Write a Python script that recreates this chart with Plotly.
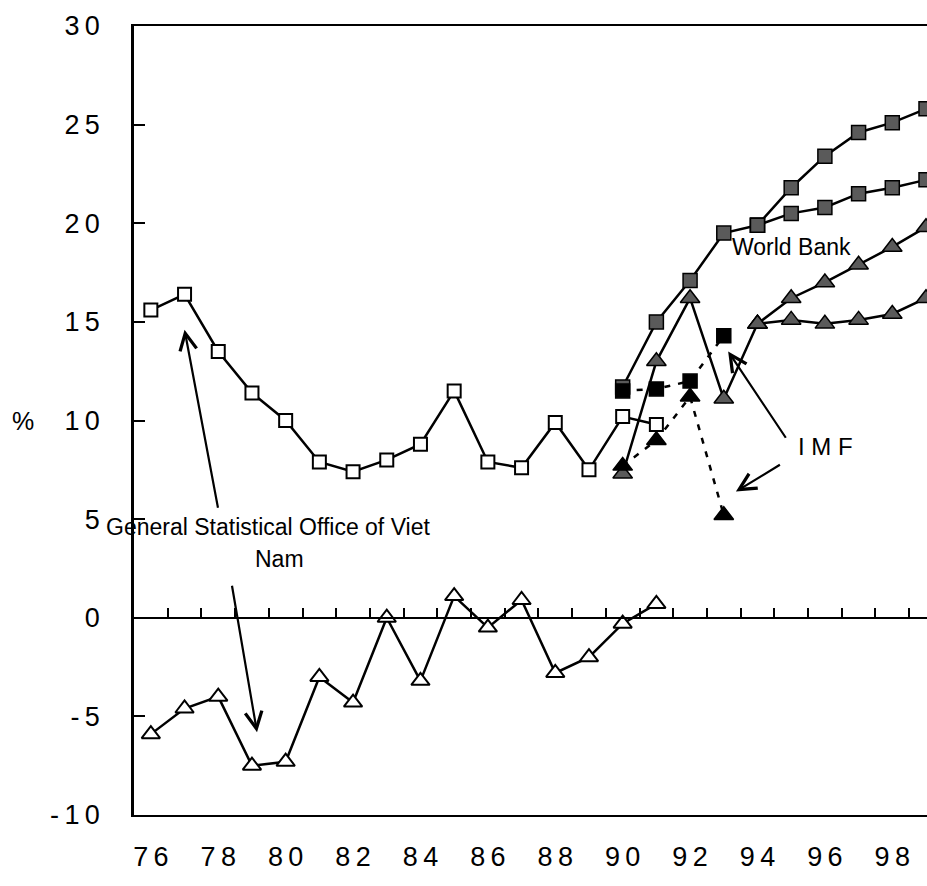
import plotly.graph_objects as go

# ---------------- data ----------------
GSO_YEARS = [76, 77, 78, 79, 80, 81, 82, 83, 84, 85, 86, 87, 88, 89, 90, 91]
GSO_INVEST = [15.6, 16.4, 13.5, 11.4, 10.0, 7.9, 7.4, 8.0, 8.8, 11.5, 7.9, 7.6, 9.9, 7.5, 10.2, 9.8]
GSO_SAVING = [-5.9, -4.6, -4.0, -7.5, -7.3, -3.0, -4.3, 0.0, -3.2, 1.1, -0.5, 0.9, -2.8, -2.0, -0.3, 0.7]

WB_BASE_YEARS = [90, 91, 92, 93, 94]
WB_INVEST_BASE = [11.7, 15.0, 17.1, 19.5, 19.9]
WB_SAVING_BASE = [7.3, 13.0, 16.2, 11.1, 14.9]

WB_PROJ_YEARS = [94, 95, 96, 97, 98, 99]
WB_INVEST_HIGH = [19.9, 21.8, 23.4, 24.6, 25.1, 25.8]
WB_INVEST_LOW = [19.9, 20.5, 20.8, 21.5, 21.8, 22.2]
WB_SAVING_HIGH = [14.9, 16.2, 17.0, 17.9, 18.8, 19.8]
WB_SAVING_LOW = [14.9, 15.1, 14.9, 15.1, 15.4, 16.2]

IMF_YEARS = [90, 91, 92, 93]
IMF_INVEST = [11.5, 11.6, 12.0, 14.3]
IMF_SAVING = [7.7, 9.0, 11.2, 5.2]

X_TICK_YEARS = [76, 78, 80, 82, 84, 86, 88, 90, 92, 94, 96, 98]
X_TICK_TEXT = ["76", "78", "80", "82", "84", "86", "88", "90", "92", "94", "96", "98"]
MINOR_TICK_YEARS = [y + 0.5 for y in range(76, 99)]
Y_TICKS = [-10, -5, 0, 5, 10, 15, 20, 25, 30]
Y_TICK_TEXT = ["-10", "-5", "0", "5", "10", "15", "20", "25", "30"]

FONT = "Liberation Sans, Arial, sans-serif"
GRAY = "#5a5a5a"
SP = "\u2009"  # thin space to mimic the wide letter spacing of the labels


def spaced(s):
    return SP.join(list(s))


fig = go.Figure()


def add_series(x, y, symbol, fill, dash="solid", size=13, lw=2.5):
    fig.add_trace(go.Scatter(
        x=x, y=y, mode="lines+markers",
        line=dict(color="black", width=lw, dash=dash),
        marker=dict(symbol=symbol, size=size, color=fill,
                    line=dict(color="black", width=2 if fill == "white" else 1.5)),
        hoverinfo="skip", showlegend=False, cliponaxis=False,
    ))


# GSO
add_series(GSO_YEARS, GSO_INVEST, "square", "white", size=13)
add_series(GSO_YEARS, GSO_SAVING, "triangle-up", "white", size=16)
# World Bank
add_series(WB_BASE_YEARS, WB_INVEST_BASE, "square", GRAY, size=14)
add_series(WB_PROJ_YEARS, WB_INVEST_HIGH, "square", GRAY, size=14)
add_series(WB_PROJ_YEARS, WB_INVEST_LOW, "square", GRAY, size=14)
add_series(WB_BASE_YEARS, WB_SAVING_BASE, "triangle-up", GRAY, size=17)
add_series(WB_PROJ_YEARS, WB_SAVING_HIGH, "triangle-up", GRAY, size=17)
add_series(WB_PROJ_YEARS, WB_SAVING_LOW, "triangle-up", GRAY, size=17)
# IMF
add_series(IMF_YEARS, IMF_INVEST, "square", "black", dash="6px,8px", size=14, lw=2.5)
add_series(IMF_YEARS, IMF_SAVING, "triangle-up", "black", dash="6px,8px", size=17, lw=2.5)

# dummy trace for the zero-line axis
fig.add_trace(go.Scatter(x=[], y=[], xaxis="x2", yaxis="y", showlegend=False, hoverinfo="skip"))

XR = [75.5, 99.03]

fig.update_layout(
    width=927, height=886,
    margin=dict(l=134, r=0, t=26, b=71),
    paper_bgcolor="white", plot_bgcolor="white",
    font=dict(family=FONT, color="black"),
    showlegend=False,
    xaxis=dict(
        range=XR, showgrid=False, zeroline=False,
        showline=True, linecolor="black", linewidth=2, mirror=True,
        ticks="", tickvals=X_TICK_YEARS, ticktext=[spaced(t) for t in X_TICK_TEXT],
        tickfont=dict(size=27, family=FONT), ticklabelstandoff=17,
    ),
    xaxis2=dict(
        range=XR, overlaying="x", side="top", anchor="free", position=0.25,
        showgrid=False, zeroline=False, showline=True, linecolor="black", linewidth=2,
        ticks="outside", ticklen=9, tickwidth=2, tickcolor="black",
        tickvals=MINOR_TICK_YEARS, showticklabels=False,
    ),
    yaxis=dict(
        range=[-10, 30], tickvals=Y_TICKS, ticktext=[spaced(t) for t in Y_TICK_TEXT],
        showgrid=False, zeroline=False,
        showline=True, linecolor="black", linewidth=2.5,
        ticks="inside", ticklen=11, tickwidth=2, tickcolor="black",
        tickfont=dict(size=27, family=FONT), ticklabelstandoff=26,
    ),
)

ann_font = dict(family=FONT, size=23, color="black")
fig.add_annotation(x=-0.14, xref="paper", xanchor="center", y=10, yref="y", text="%",
                   showarrow=False, font=dict(family=FONT, size=25, color="black"))
fig.add_annotation(x=95.0, y=18.8, text="World Bank", showarrow=False, font=ann_font)
fig.add_annotation(x=96.03, y=8.7, text="I M F", showarrow=False,
                   font=dict(family=FONT, size=24, color="black"))
fig.add_annotation(x=79.47, y=4.6, text="General Statistical Office of Viet", showarrow=False, font=ann_font)
fig.add_annotation(x=79.83, y=2.97, text="Nam", showarrow=False, font=ann_font)

arrow_common = dict(text="", showarrow=True, arrowhead=5, arrowsize=1.5, arrowwidth=2.2,
                    arrowcolor="black", axref="x", ayref="y", standoff=0)
fig.add_annotation(x=77.0, y=14.6, ax=78.0, ay=5.5, **arrow_common)
fig.add_annotation(x=79.15, y=-5.8, ax=78.4, ay=1.7, **arrow_common)
fig.add_annotation(x=93.13, y=13.5, ax=94.87, ay=9.05, **arrow_common)
fig.add_annotation(x=93.36, y=6.4, ax=94.71, ay=7.8, **arrow_common)

fig.write_html("out.html", config={"displayModeBar": False},
               post_script="document.body.style.margin='0';document.body.style.overflow='hidden';")
